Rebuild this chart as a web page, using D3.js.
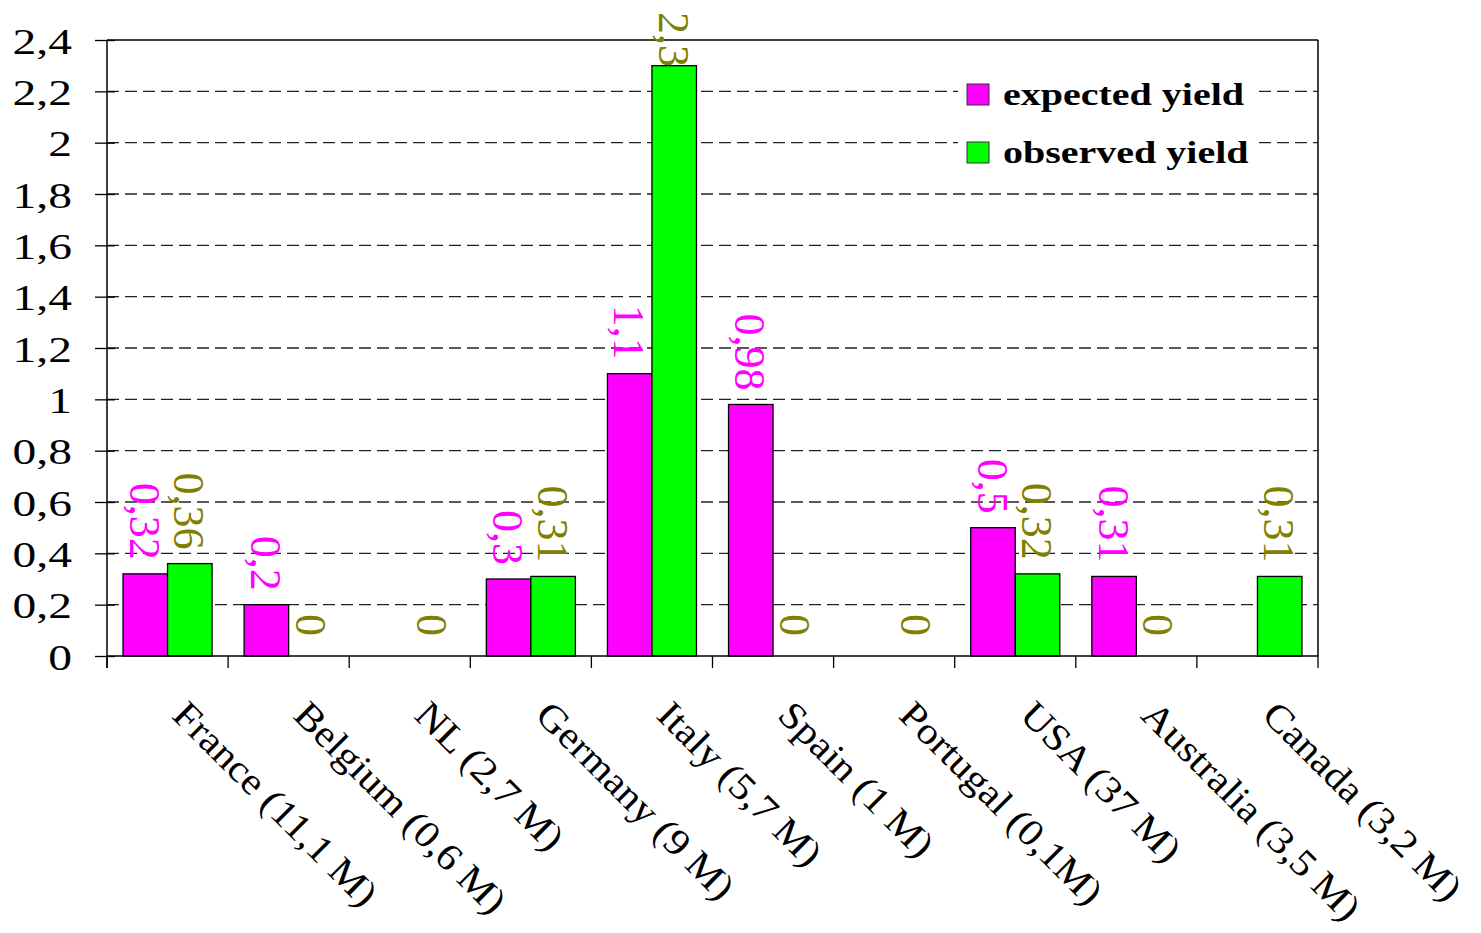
<!DOCTYPE html>
<html>
<head>
<meta charset="utf-8">
<script src="https://cdn.jsdelivr.net/npm/d3@7"></script>
<style>
  html, body { margin: 0; padding: 0; background: #fff; }
  svg { display: block; }
  text { font-family: "Liberation Serif", "Times New Roman", serif; }
</style>
</head>
<body>
<script>
const categories = ["France (11,1 M)", "Belgium (0,6 M)", "NL (2,7 M)", "Germany (9 M)", "Italy (5,7 M)",
  "Spain (1 M)", "Portugal (0,1M)", "USA (37 M)", "Australia (3,5 M)", "Canada (3,2 M)"];
const seriesNames = ["expected yield", "observed yield"];
const expectedYield = [0.32, 0.2, null, 0.3, 1.1, 0.98, null, 0.5, 0.31, null];
const observedYield = [0.36, 0, 0, 0.31, 2.3, 0, 0, 0.32, 0, 0.31];
const yTicks = [0, 0.2, 0.4, 0.6, 0.8, 1, 1.2, 1.4, 1.6, 1.8, 2, 2.2, 2.4];
const barColors = ["#ff00ff", "#00ff00"];
const labelColors = ["#ff00ff", "#808000"];

const W = 1481, H = 933;
const m = { left: 107, top: 40, right: 1318, bottom: 656 };
const fmt = d => String(d).replace(".", ",");

const svg = d3.select("body").append("svg").attr("width", W).attr("height", H);

const x0 = d3.scaleBand().domain(categories).range([m.left, m.right]).paddingInner(0).paddingOuter(0);
const x1 = d3.scaleBand().domain(seriesNames).range([0, x0.bandwidth()]).paddingInner(0).paddingOuter(0.36);
const y = d3.scaleLinear().domain([0, 2.4]).range([m.bottom, m.top]);

// gridlines
svg.append("g").selectAll("line").data(yTicks.filter(t => t > 0 && t < 2.4)).join("line")
  .attr("x1", m.left).attr("x2", m.right)
  .attr("y1", d => y(d)).attr("y2", d => y(d))
  .attr("stroke", "#222").attr("stroke-width", 1.3).attr("stroke-dasharray", "12,6");

// top & right border
svg.append("line").attr("x1", m.left).attr("x2", m.right).attr("y1", y(2.4)).attr("y2", y(2.4))
  .attr("stroke", "#000").attr("stroke-width", 1.5);
svg.append("line").attr("x1", m.right).attr("x2", m.right).attr("y1", y(2.4)).attr("y2", m.bottom)
  .attr("stroke", "#000").attr("stroke-width", 1.5);

// data rows
const rows = categories.map((c, i) => ({ c, vals: [expectedYield[i], observedYield[i]] }));
const items = [];
rows.forEach(r => r.vals.forEach((v, k) => { if (v !== null) items.push({ c: r.c, k, v }); }));

// bars
svg.append("g").selectAll("rect").data(items.filter(d => d.v > 0)).join("rect")
  .attr("x", d => x0(d.c) + x1(seriesNames[d.k]))
  .attr("width", x1.bandwidth())
  .attr("y", d => y(d.v))
  .attr("height", d => y(0) - y(d.v))
  .attr("fill", d => barColors[d.k])
  .attr("stroke", "#000").attr("stroke-width", 1.3);

// value labels (rotated 90deg)
const LF = 44;
const vl = svg.append("g").selectAll("text").data(items).join("text")
  .attr("font-size", LF)
  .attr("fill", d => labelColors[d.k])
  .attr("dy", "0.35em")
  .text(d => fmt(d.v));
vl.each(function(d) {
  const len = this.getComputedTextLength();
  const cx = x0(d.c) + x1(seriesNames[d.k]) + x1.bandwidth() / 2;
  let end = y(d.v) - (d.v === 0 ? 20 : 14);
  if (end - len < 12) end = 12 + len;
  d3.select(this).attr("text-anchor", "end")
    .attr("transform", `translate(${cx},${end}) rotate(90)`);
});

// y axis
const yAxis = svg.append("g").attr("transform", `translate(${m.left},0)`)
  .call(d3.axisLeft(y).tickValues(yTicks).tickFormat(fmt).tickSizeOuter(0).tickSizeInner(12));
yAxis.select(".domain").remove();
yAxis.selectAll(".tick line").attr("x1", 8).attr("x2", -12).attr("stroke", "#000").attr("stroke-width", 1.3);
yAxis.selectAll(".tick text")
  .attr("x", 0).attr("dy", "0.37em")
  .attr("font-size", 36).attr("fill", "#000")
  .attr("text-anchor", "end")
  .attr("transform", "translate(-35,0) scale(1.32,1)");
svg.append("line").attr("x1", m.left).attr("x2", m.left).attr("y1", y(2.4)).attr("y2", m.bottom + 12)
  .attr("stroke", "#000").attr("stroke-width", 1.5);

// x axis
svg.append("line").attr("x1", m.left).attr("x2", m.right).attr("y1", m.bottom).attr("y2", m.bottom)
  .attr("stroke", "#000").attr("stroke-width", 1.5);
const bounds = categories.map(c => x0(c)).concat([m.right]);
svg.append("g").selectAll("line").data(bounds).join("line")
  .attr("x1", d => d).attr("x2", d => d).attr("y1", m.bottom).attr("y2", m.bottom + 12)
  .attr("stroke", "#000").attr("stroke-width", 1.3);

svg.append("g").selectAll("text").data(categories).join("text")
  .attr("font-size", 38).attr("fill", "#000").attr("text-anchor", "start")
  .attr("transform", d => `translate(${x0(d) + x0.bandwidth() / 2 + 3},${m.bottom + 61}) rotate(45) scale(1.1,1)`)
  .text(d => d);

// legend
const lg = svg.append("g");
lg.append("rect").attr("x", 958).attr("y", 70).attr("width", 296).attr("height", 106).attr("fill", "#fff");
seriesNames.forEach((s, i) => {
  const yy = 84 + i * 58;
  lg.append("rect").attr("x", 967).attr("y", yy).attr("width", 22).attr("height", 21)
    .attr("fill", barColors[i]).attr("stroke", "#333").attr("stroke-width", 1);
  lg.append("text").attr("font-size", 32).attr("font-weight", "bold").attr("fill", "#000")
    .attr("transform", `translate(1003,${yy + 21}) scale(1.25,1)`)
    .text(s);
});
</script>
</body>
</html>
